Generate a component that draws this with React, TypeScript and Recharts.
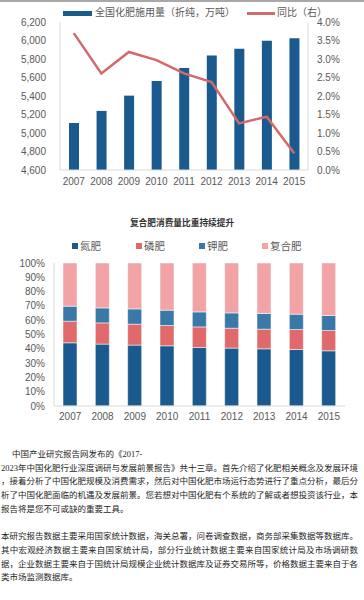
import React from 'react';
import { ComposedChart, BarChart, Bar, Line, XAxis, YAxis } from 'recharts';

const years = ['2007', '2008', '2009', '2010', '2011', '2012', '2013', '2014', '2015'];
const usage = [5108, 5239, 5404, 5562, 5704, 5839, 5912, 5996, 6023];
const yoy = [0.037, 0.0261, 0.0319, 0.0297, 0.0261, 0.0238, 0.0126, 0.0144, 0.0045];
const usageTicks = [4600, 4800, 5000, 5200, 5400, 5600, 5800, 6000, 6200];
const yoyTicks = [0, 0.005, 0.01, 0.015, 0.02, 0.025, 0.03, 0.035, 0.04];

const nitrogen = [44.2, 43.3, 42.6, 42.1, 40.9, 40.5, 40.0, 39.5, 38.6];
const phosphate = [15.1, 14.8, 14.6, 14.2, 14.4, 13.9, 13.7, 14.0, 14.2];
const potash = [10.5, 10.5, 10.7, 10.7, 10.5, 10.7, 11.0, 10.7, 10.5];
const compound = [30.2, 31.4, 32.1, 33.0, 34.2, 34.9, 35.3, 35.8, 36.7];
const shareTicks = [0, 10, 20, 30, 40, 50, 60, 70, 80, 90, 100];

const para1 = [
  '中国产业研究报告网发布的《2017-',
  '2023年中国化肥行业深度调研与发展前景报告》共十三章。首先介绍了化肥相关概念及发展环境',
  '，接着分析了中国化肥规模及消费需求，然后对中国化肥市场运行态势进行了重点分析，最后分',
  '析了中国化肥面临的机遇及发展前景。您若想对中国化肥有个系统的了解或者想投资该行业，本',
  '报告将是您不可或缺的重要工具。',
];
const para2 = [
  '本研究报告数据主要采用国家统计数据，海关总署，问卷调查数据，商务部采集数据等数据库。',
  '其中宏观经济数据主要来自国家统计局，部分行业统计数据主要来自国家统计局及市场调研数',
  '据，企业数据主要来自于国统计局规模企业统计数据库及证券交易所等，价格数据主要来自于各',
  '类市场监测数据库。',
];

const usageData = years.map((y, i) => ({ year: y, usage: usage[i], yoy: yoy[i] }));
const shareData = years.map((y, i) => ({
  year: y,
  n: nitrogen[i],
  p: phosphate[i],
  k: potash[i],
  c: compound[i],
}));

const NAVY = '#1b5a8e';
const RED = '#d06a6d';
const AXIS = '#d9d9d9';
const TICK = { fill: '#595959', fontSize: 10 };
const FONT = '"Liberation Sans", "Noto Sans CJK SC", sans-serif';

const shareLegend = [
  { name: '氮肥', color: NAVY, x: 72 },
  { name: '磷肥', color: '#e0696b', x: 136 },
  { name: '钾肥', color: '#3a78a8', x: 199 },
  { name: '复合肥', color: '#f2a3a5', x: 262 },
];

export default function App() {
  const textLine = (s: string, i: number, full: boolean, indent = 0) => (
    <div
      key={i}
      style={{
        whiteSpace: 'nowrap',
        width: 357,
        paddingLeft: indent,
        boxSizing: 'border-box',
        textAlign: 'left',
        textAlignLast: full ? 'justify' : 'left',
        height: 13.7,
        lineHeight: '13.7px',
      }}
    >
      {s}
    </div>
  );

  return (
    <div
      style={{
        position: 'absolute',
        left: 0,
        top: 0,
        width: 364,
        height: 600,
        background: '#fff',
        overflow: 'hidden',
        fontFamily: FONT,
      }}
    >
      <div style={{ position: 'absolute', left: 0, top: 0, width: 364, height: 2, background: '#a8a8a8' }} />

      {/* chart 1 */}
      <div style={{ position: 'absolute', left: 0, top: 0 }}>
        <ComposedChart width={364} height={192} data={usageData} margin={{ top: 22, right: 0, left: 0, bottom: 0 }}>
          <XAxis
            dataKey="year"
            height={22}
            stroke={AXIS}
            tickLine={false}
            tickSize={0}
            tickMargin={8}
            tick={TICK}
          />
          <YAxis
            yAxisId="left"
            width={60}
            domain={[4600, 6200]}
            ticks={usageTicks}
            tickFormatter={(v: number) => v.toLocaleString('en-US')}
            stroke={AXIS}
            tickLine={false}
            tickSize={0}
            tickMargin={14}
            tick={TICK}
            interval={0}
          />
          <YAxis
            yAxisId="right"
            orientation="right"
            width={56}
            domain={[0, 0.04]}
            ticks={yoyTicks}
            tickFormatter={(v: number) => (v * 100).toFixed(1) + '%'}
            stroke={AXIS}
            tickLine={false}
            tickSize={0}
            tickMargin={9}
            tick={TICK}
            interval={0}
          />
          <Bar yAxisId="left" dataKey="usage" fill={NAVY} barSize={10} isAnimationActive={false} />
          <Line
            yAxisId="right"
            type="linear"
            dataKey="yoy"
            stroke={RED}
            strokeWidth={2.5}
            dot={false}
            isAnimationActive={false}
          />
        </ComposedChart>
      </div>
      <div style={{ position: 'absolute', left: 63, top: 11, width: 29, height: 5, background: NAVY }} />
      <div style={{ position: 'absolute', left: 95, top: 6, fontSize: 10, lineHeight: '14px', color: '#595959', whiteSpace: 'nowrap' }}>
        全国化肥施用量（折纯，万吨）
      </div>
      <div style={{ position: 'absolute', left: 247, top: 12, width: 28, height: 3, background: RED }} />
      <div style={{ position: 'absolute', left: 277, top: 6, fontSize: 10, lineHeight: '14px', color: '#595959', whiteSpace: 'nowrap' }}>
        同比（右）
      </div>

      {/* chart 2 */}
      <div
        style={{
          position: 'absolute',
          left: 0,
          top: 216,
          width: 364,
          textAlign: 'center',
          fontSize: 8.7,
          fontWeight: 700,
          lineHeight: '14px',
          color: '#333',
        }}
      >
        复合肥消费量比重持续提升
      </div>
      {shareLegend.map((l) => (
        <React.Fragment key={l.name}>
          <div style={{ position: 'absolute', left: l.x, top: 243, width: 6, height: 6, background: l.color }} />
          <div style={{ position: 'absolute', left: l.x + 8, top: 239, fontSize: 10.5, lineHeight: '14px', color: '#595959', whiteSpace: 'nowrap' }}>
            {l.name}
          </div>
        </React.Fragment>
      ))}
      <div style={{ position: 'absolute', left: 0, top: 196 }}>
        <BarChart width={364} height={230} data={shareData} margin={{ top: 67, right: 19, left: 0, bottom: 0 }}>
          <XAxis
            dataKey="year"
            height={20}
            stroke={AXIS}
            tickLine={false}
            tickSize={0}
            tickMargin={7}
            tick={TICK}
          />
          <YAxis
            width={54}
            domain={[0, 100]}
            ticks={shareTicks}
            tickFormatter={(v: number) => v + '%'}
            stroke={AXIS}
            tickLine={false}
            tickSize={0}
            tickMargin={9}
            tick={TICK}
            interval={0}
          />
          <Bar dataKey="n" stackId="s" fill={shareLegend[0].color} stroke="#fff" strokeWidth={0.5} barSize={14} isAnimationActive={false} />
          <Bar dataKey="p" stackId="s" fill={shareLegend[1].color} stroke="#fff" strokeWidth={0.5} barSize={14} isAnimationActive={false} />
          <Bar dataKey="k" stackId="s" fill={shareLegend[2].color} stroke="#fff" strokeWidth={0.5} barSize={14} isAnimationActive={false} />
          <Bar dataKey="c" stackId="s" fill={shareLegend[3].color} stroke="#fff" strokeWidth={0.5} barSize={14} isAnimationActive={false} />
        </BarChart>
      </div>

      {/* text */}
      <div
        style={{
          position: 'absolute',
          left: 1,
          top: 448,
          fontSize: 8.5,
          color: '#1e1e1e',
          fontFamily: '"Liberation Serif", "Noto Sans CJK SC", serif',
        }}
      >
        {para1.map((s, i) => textLine(s, i, i > 0 && i < para1.length - 1, i === 0 ? 11 : 0))}
        <div style={{ height: 13.7 }} />
        {para2.map((s, i) => textLine(s, i + 10, i < para2.length - 1))}
      </div>
    </div>
  );
}
